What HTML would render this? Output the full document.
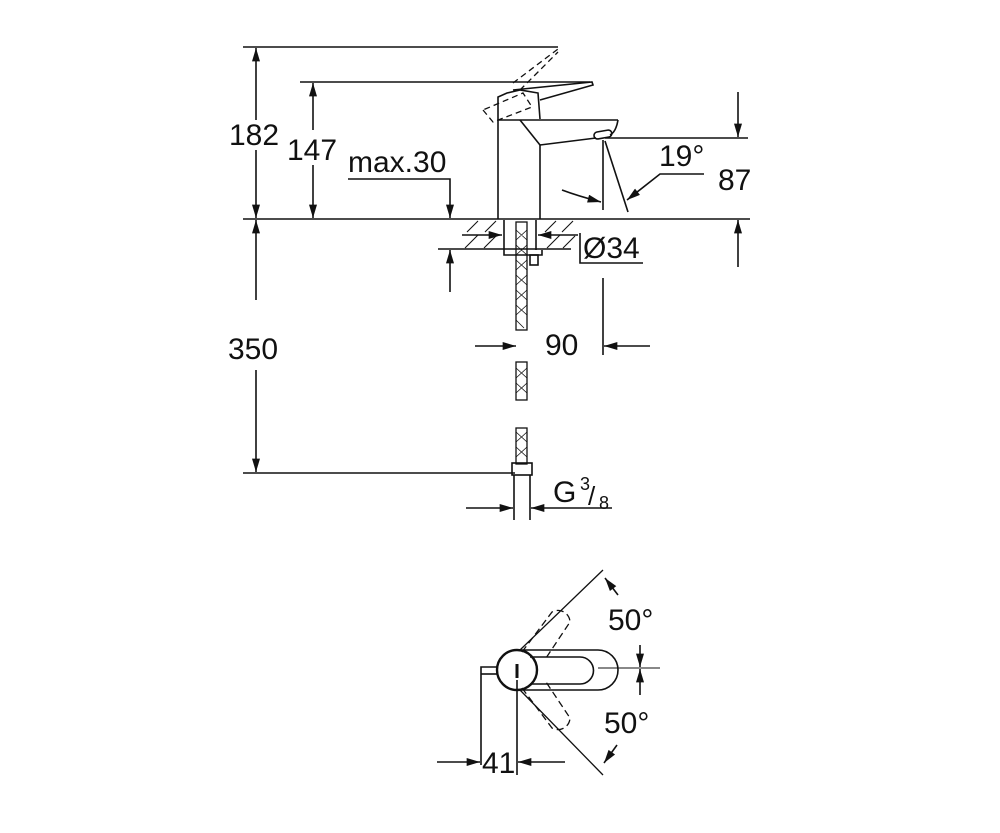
<!DOCTYPE html>
<html><head><meta charset="utf-8"><style>
html,body{margin:0;padding:0;background:#fff;width:1000px;height:833px;overflow:hidden}
text{font-family:"Liberation Sans",sans-serif;fill:#111}
</style></head><body>
<svg width="1000" height="833" viewBox="0 0 1000 833" xmlns="http://www.w3.org/2000/svg">
<defs>
<marker id="a" viewBox="0 0 10 6" refX="10" refY="3" markerWidth="17" markerHeight="8" markerUnits="userSpaceOnUse" orient="auto"><path d="M0,0 L10,3 L0,6 Z" fill="#111"/></marker>
</defs>
<g stroke="#111" stroke-width="1.6" fill="none">
<line x1="243" y1="47" x2="558" y2="47"/>
<line x1="300" y1="82" x2="590" y2="82"/>
<line x1="243" y1="219" x2="750" y2="219"/>
<line x1="243" y1="473" x2="515" y2="473"/>
<line x1="256" y1="120" x2="256" y2="48" marker-end="url(#a)"/>
<line x1="256" y1="150" x2="256" y2="218" marker-end="url(#a)"/>
<line x1="256" y1="300" x2="256" y2="220" marker-end="url(#a)"/>
<line x1="256" y1="370" x2="256" y2="472" marker-end="url(#a)"/>
<line x1="313" y1="130" x2="313" y2="83" marker-end="url(#a)"/>
<line x1="313" y1="165" x2="313" y2="218" marker-end="url(#a)"/>
<polyline points="348,179 450,179 450,218" marker-end="url(#a)"/>
<line x1="438" y1="249" x2="571" y2="249"/>
<line x1="450" y1="292" x2="450" y2="250" marker-end="url(#a)"/>
<line x1="498" y1="120" x2="498" y2="219"/>
<line x1="540" y1="145" x2="540" y2="219"/>
<line x1="498" y1="120" x2="618" y2="120"/>
<path d="M618,120 Q616,132 610,135"/>
<line x1="520" y1="120" x2="540" y2="145"/>
<line x1="540" y1="145" x2="596" y2="138"/>
<rect x="594" y="131" width="18" height="7" rx="3.5" transform="rotate(-10 603 135)"/>
<!-- lever -->
<path d="M498,120 L498,97 L507,93 L520,90 L538,93 L540,119"/>
<path d="M513,90 L592,82 L593,85 L540,100"/>
<g stroke-dasharray="6,4" stroke-width="1.3">
<path d="M483,110 L493,122 L532,107 L523,93 Z"/>
<path d="M513,83 L558,49 M520,90 L558,52"/>
</g>
<line x1="603" y1="140" x2="603" y2="210"/>
<line x1="605" y1="141" x2="628" y2="212"/>
<path d="M562,190 Q578,196 601,202" marker-end="url(#a)"/>
<polyline points="704,174 660,174 627,200" marker-end="url(#a)"/>
<line x1="605" y1="138" x2="748" y2="138"/>
<line x1="738" y1="92" x2="738" y2="137" marker-end="url(#a)"/>
<line x1="738" y1="267" x2="738" y2="220" marker-end="url(#a)"/>
<g stroke-width="1.1">
<line x1="467" y1="232" x2="478" y2="221"/><line x1="485" y1="232" x2="496" y2="221"/>
<line x1="465" y1="248" x2="478" y2="235"/><line x1="484" y1="248" x2="497" y2="235"/>
<line x1="545" y1="232" x2="556" y2="221"/><line x1="562" y1="232" x2="573" y2="221"/>
<line x1="547" y1="248" x2="560" y2="235"/><line x1="563" y1="248" x2="575" y2="236"/>
</g>
<line x1="504" y1="220" x2="504" y2="250"/>
<line x1="536" y1="220" x2="536" y2="250"/>
<path d="M504,250 L504,255 L542,255 L542,250"/>
<rect x="530" y="255" width="8" height="10"/>
<line x1="462" y1="235" x2="502" y2="235" marker-end="url(#a)"/>
<line x1="578" y1="235" x2="538" y2="235" marker-end="url(#a)"/>
<polyline points="580,233 580,263 643,263"/>
<g stroke-width="1.3">
<rect x="516" y="222" width="11" height="108"/>
<rect x="516" y="362" width="11" height="38"/>
<rect x="516" y="428" width="11" height="36"/>
</g>
<g stroke-width="0.8">
<path d="M516,230 L527,240 M516,245 L527,255 M516,260 L527,270 M516,275 L527,285 M516,290 L527,300 M516,305 L527,315 M516,320 L524,328 M527,230 L516,240 M527,245 L516,255 M527,260 L516,270 M527,275 L516,285 M527,290 L516,300 M527,305 L516,315 M516,368 L527,378 M516,383 L527,393 M527,368 L516,378 M527,383 L516,393 M516,432 L527,442 M516,447 L527,457 M527,432 L516,442 M527,447 L516,457"/>
</g>
<rect x="512" y="463" width="20" height="12"/>
<line x1="514" y1="475" x2="514" y2="520"/>
<line x1="530" y1="475" x2="530" y2="520"/>
<line x1="475" y1="346" x2="516" y2="346" marker-end="url(#a)"/>
<line x1="603" y1="278" x2="603" y2="355"/>
<line x1="650" y1="346" x2="604" y2="346" marker-end="url(#a)"/>
<line x1="466" y1="508" x2="513" y2="508" marker-end="url(#a)"/>
<line x1="612" y1="508" x2="531" y2="508" marker-end="url(#a)"/>
<!-- plan view -->
<path d="M518,650 L598,650 A20,20 0 0 1 598,690 L518,690"/>
<path d="M530,657 L580,657 A13.5,13.5 0 0 1 580,684 L530,684"/>
<circle cx="517" cy="670" r="20" stroke-width="2.4"/>
<line x1="517" y1="664" x2="517" y2="678" stroke-width="3"/>
<line x1="598" y1="668" x2="660" y2="668" stroke-width="1"/>
<polyline points="497,667 481,667 481,765"/>
<line x1="481" y1="674" x2="497" y2="674"/>
<line x1="517" y1="680" x2="517" y2="775"/>
<line x1="437" y1="762" x2="480" y2="762" marker-end="url(#a)"/>
<line x1="565" y1="762" x2="518" y2="762" marker-end="url(#a)"/>
<line x1="520" y1="650" x2="603" y2="570" stroke-width="1.3"/>
<line x1="520" y1="690" x2="603" y2="775" stroke-width="1.3"/>
<g stroke-dasharray="7,4" stroke-width="1.3">
<path d="M522,652 L552,612 A12,12 0 0 1 570,622 L546,658"/>
<path d="M522,688 L552,728 A12,12 0 0 0 570,718 L546,682"/>
</g>
<line x1="618" y1="595" x2="605" y2="578" marker-end="url(#a)"/>
<line x1="617" y1="745" x2="604" y2="763" marker-end="url(#a)"/>
<line x1="640" y1="645" x2="640" y2="667" marker-end="url(#a)"/>
<line x1="640" y1="695" x2="640" y2="669" marker-end="url(#a)"/>
</g>
<g font-size="30">
<text x="229" y="145">182</text>
<text x="287" y="160">147</text>
<text x="348" y="172">max.30</text>
<text x="659" y="166">19°</text>
<text x="718" y="190">87</text>
<text x="583" y="258">Ø34</text>
<text x="545" y="355">90</text>
<text x="228" y="359">350</text>
<text x="553" y="502">G</text>
<text x="608" y="630">50°</text>
<text x="604" y="733">50°</text>
<text x="482" y="773">41</text>
</g>
<text x="580" y="490" font-size="18">3</text>
<text x="588" y="505" font-size="26">/</text>
<text x="599" y="509" font-size="18">8</text>
</svg>
</body></html>
